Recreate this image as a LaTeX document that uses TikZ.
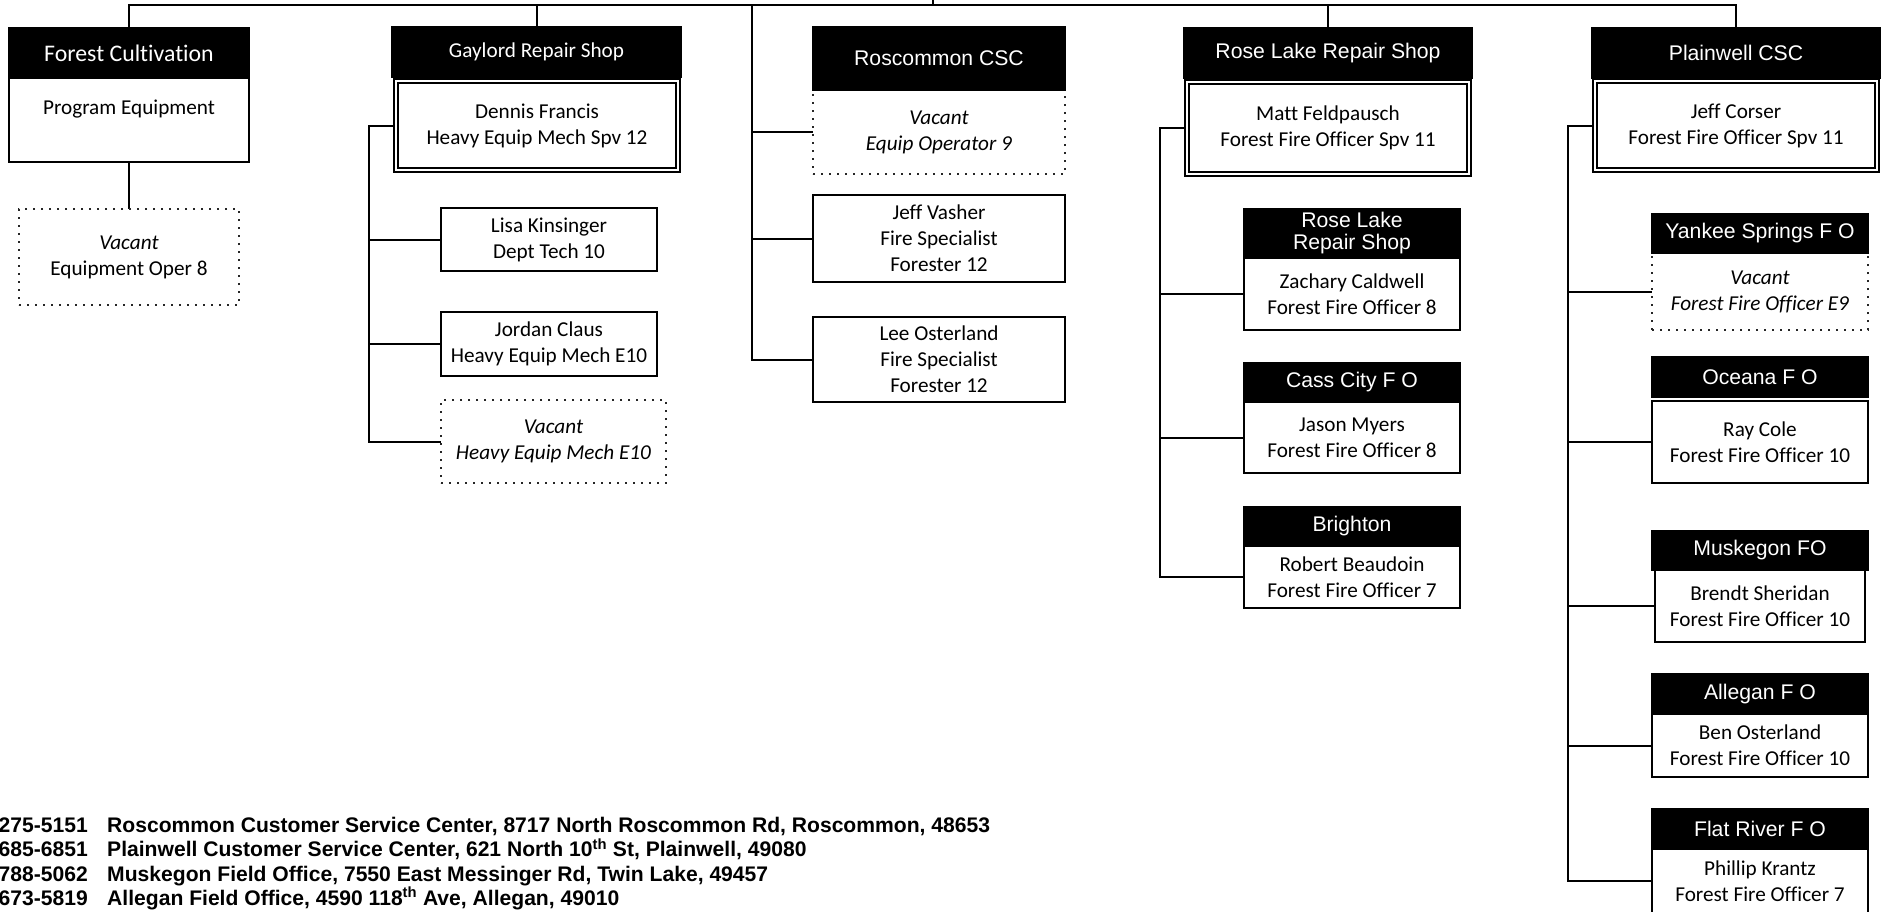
\documentclass[tikz,border=0pt]{standalone}
\usepackage{fontspec}
\setmainfont{Carlito}[Ligatures=NoCommon]
\newfontfamily\arialf{Liberation Sans}[Ligatures=NoCommon]
\usetikzlibrary{backgrounds}

\tikzset{
  conn/.style={line width=2pt, draw=black},
  basebox/.style={anchor=north west, inner sep=0pt, outer sep=0pt, align=center, line width=2pt},
  hdr/.style={basebox, fill=black, draw=black, text=white, font=\arialf\fontsize{21.2}{22}\selectfont},
  hdrc/.style={hdr, font=\fontsize{21.2}{26}\selectfont},
  body/.style={basebox, fill=white, draw=black, font=\fontsize{21.2}{26}\selectfont},
  vac/.style={basebox, fill=white, draw=black!85, line width=1.6pt, dash pattern=on 1.6pt off 6.4pt, font=\fontsize{21.2}{26}\selectfont},
  dbl/.style={basebox, fill=white, draw=black, line width=2pt, double=white, double distance=2pt, font=\fontsize{21.2}{26}\selectfont},
  foot/.style={anchor=base west, inner sep=0pt, font=\arialf\bfseries\fontsize{21.1}{24}\selectfont},
}

\begin{document}
\begin{tikzpicture}[x=1pt,y=-1pt]
\useasboundingbox (0,0) rectangle (1885,911);
\clip (0,0) rectangle (1885,911);
\begin{scope}[on background layer]
  \fill[white] (0,0) rectangle (1885,911);
\end{scope}

% ---------- Forest Cultivation ----------
\node[hdrc, font=\fontsize{23.8}{26}\selectfont, minimum width=240, minimum height=50] (fch) at (9,28) {Forest Cultivation};
\node[body, minimum width=240, minimum height=84] (fcb) at (9,78) {Program Equipment\\\mbox{}};
\node[vac, minimum width=220, minimum height=96] (fcv) at (19,209) {\textit{Vacant}\\Equipment Oper 8};

% ---------- Gaylord Repair Shop ----------
\node[hdrc, minimum width=289, minimum height=50] (gh) at (392,27) {Gaylord Repair Shop};
\node[dbl, minimum width=282, minimum height=89] (gb) at (396,81) {Dennis Francis\\Heavy Equip Mech Spv 12};
\node[body, minimum width=216, minimum height=63] (gl) at (441,208) {Lisa Kinsinger\\Dept Tech 10};
\node[body, minimum width=216, minimum height=64] (gj) at (441,312) {Jordan Claus\\Heavy Equip Mech E10};
\node[vac, minimum width=225, minimum height=83] (gv) at (441,400) {\textit{Vacant}\\\textit{Heavy Equip Mech E10}};

% ---------- Roscommon CSC ----------
\node[vac, minimum width=252, minimum height=84] (rv) at (813,90) {\textit{Vacant}\\\textit{Equip Operator 9}};
\node[hdr, minimum width=252, minimum height=63] (rh) at (813,27) {Roscommon CSC};
\node[body, minimum width=252, minimum height=87] (rj) at (813,195) {Jeff Vasher\\Fire Specialist\\Forester 12};
\node[body, minimum width=252, minimum height=85] (rl) at (813,317) {Lee Osterland\\Fire Specialist\\Forester 12};

% ---------- Rose Lake Repair Shop ----------
\node[hdr, minimum width=288, minimum height=50] (lh) at (1184,28) {Rose Lake Repair Shop};
\node[dbl, minimum width=282, minimum height=92] (lb) at (1187,82) {Matt Feldpausch\\Forest Fire Officer Spv 11};
\node[hdr, minimum width=216, minimum height=49] (l1h) at (1244,209) {Rose Lake\\Repair Shop};
\node[body, minimum width=216, minimum height=72] (l1b) at (1244,258) {Zachary Caldwell\\Forest Fire Officer 8};
\node[hdr, minimum width=216, minimum height=39] (l2h) at (1244,363) {Cass City F O};
\node[body, minimum width=216, minimum height=71] (l2b) at (1244,402) {Jason Myers\\Forest Fire Officer 8};
\node[hdr, minimum width=216, minimum height=39] (l3h) at (1244,507) {Brighton};
\node[body, minimum width=216, minimum height=62] (l3b) at (1244,546) {Robert Beaudoin\\Forest Fire Officer 7};

% ---------- Plainwell CSC ----------
\node[hdr, minimum width=288, minimum height=50] (ph) at (1592,28) {Plainwell CSC};
\node[dbl, minimum width=282, minimum height=89] (pb) at (1595,81) {Jeff Corser\\Forest Fire Officer Spv 11};
\node[vac, minimum width=216, minimum height=77] (p1b) at (1652,253) {\textit{Vacant}\\\textit{Forest Fire Officer E9}};
\node[hdr, minimum width=216, minimum height=39] (p1h) at (1652,214) {Yankee Springs F O};
\node[hdr, minimum width=216, minimum height=40] (p2h) at (1652,357) {Oceana F O};
\node[body, minimum width=216, minimum height=82] (p2b) at (1652,401) {Ray Cole\\Forest Fire Officer 10};
\node[hdr, minimum width=216, minimum height=39] (p3h) at (1652,531) {Muskegon FO};
\node[body, minimum width=210, minimum height=72] (p3b) at (1655,570) {Brendt Sheridan\\Forest Fire Officer 10};
\node[hdr, minimum width=216, minimum height=40] (p4h) at (1652,674) {Allegan F O};
\node[body, minimum width=216, minimum height=63] (p4b) at (1652,714) {Ben Osterland\\Forest Fire Officer 10};
\node[hdr, minimum width=216, minimum height=40] (p5h) at (1652,809) {Flat River F O};
\node[body, minimum width=216, minimum height=64] (p5b) at (1652,849) {Phillip Krantz\\Forest Fire Officer 7};

% ---------- Footer ----------
\node[foot, anchor=base east] (n1) at (88,832.5) {275-5151};
\node[foot] (a1) at (107,832.5) {Roscommon Customer Service Center, 8717 North Roscommon Rd, Roscommon, 48653};
\node[foot, anchor=base east] (n2) at (88,856.8) {685-6851};
\node[foot] (a2) at (107,856.8) {Plainwell Customer Service Center, 621 North 10\textsuperscript{th} St, Plainwell, 49080};
\node[foot, anchor=base east] (n3) at (88,881.1) {788-5062};
\node[foot] (a3) at (107,881.1) {Muskegon Field Office, 7550 East Messinger Rd, Twin Lake, 49457};
\node[foot, anchor=base east] (n4) at (88,905.4) {673-5819};
\node[foot] (a4) at (107,905.4) {Allegan Field Office, 4590 118\textsuperscript{th} Ave, Allegan, 49010};

% ---------- Connectors ----------
\coordinate (topR) at (1736,5);
\coordinate (rootup) at (933,-3);
\coordinate (rtr) at (752,5);
\coordinate (gtr) at (369,0);
\coordinate (ltr) at (1160,0);
\coordinate (ptr) at (1568,0);
\begin{scope}[on background layer]
  \draw[conn] (fch.north) |- (topR) -- (ph.north);
  \draw[conn] (rootup) -- (rootup |- topR);
  \draw[conn] (gh.north) -- (gh.north |- topR);
  \draw[conn] (lh.north) -- (lh.north |- topR);
  \draw[conn] (fcb.south) -- (fcv.north);
  % Gaylord
  \draw[conn] (gb.west) -| (gtr |- gv.west) -- (gv.west);
  \draw[conn] (gl.west) -- (gl.west -| gtr);
  \draw[conn] (gj.west) -- (gj.west -| gtr);
  % Roscommon
  \draw[conn] (rtr) |- (rl.west);
  \draw[conn] (rv.west) -- (rv.west -| rtr);
  \draw[conn] (rj.west) -- (rj.west -| rtr);
  % Rose Lake
  \draw[conn] (lb.west) -| (ltr |- l3b.west) -- (l3b.west);
  \draw[conn] (l1b.west) -- (l1b.west -| ltr);
  \draw[conn] (l2b.west) -- (l2b.west -| ltr);
  % Plainwell
  \draw[conn] (pb.west) -| (ptr |- p5b.west) -- (p5b.west);
  \draw[conn] (p1b.west) -- (p1b.west -| ptr);
  \draw[conn] (p2b.west) -- (p2b.west -| ptr);
  \draw[conn] (p3b.west) -- (p3b.west -| ptr);
  \draw[conn] (p4b.west) -- (p4b.west -| ptr);
\end{scope}
\end{tikzpicture}
\end{document}
